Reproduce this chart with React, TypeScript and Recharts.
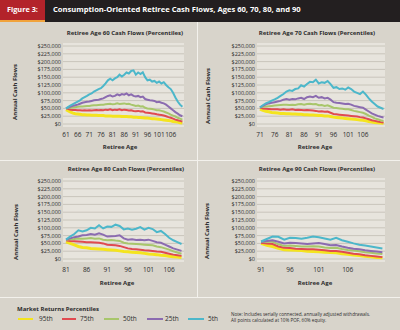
import { CartesianGrid, Line, LineChart, XAxis, YAxis } from "recharts";

// percentiles, drawn bottom to top
const percentiles = ["95th", "75th", "50th", "25th", "5th"];
const keys = ["p95", "p75", "p50", "p25", "p5"];
const colors = ["#f4e41e", "#e04a50", "#a8c66b", "#8b6bb0", "#4cb7ca"];
const widths = [3, 2, 2, 2, 2];

const yTicks = [0, 25000, 50000, 75000, 100000, 125000, 150000, 175000, 200000, 225000, 250000];

// retiree age 60 (values in $000s)
const ages60 = Array.from({ length: 51 }, (_, i) => 61 + i);
const age60_p95 = [46, 42, 38, 35, 33, 32, 31, 30, 30, 29, 29, 28, 28, 28, 27, 27, 27, 26, 26, 26, 25, 25, 25, 25, 24, 24, 24, 23, 23, 22, 22, 21, 21, 20, 19, 19, 18, 17, 17, 16, 15, 14, 13, 12, 11, 10, 8, 7, 6, 4, 3];
const age60_p75 = [50, 48, 46, 45, 45, 44, 44, 43, 44, 43, 44, 43, 44, 45, 44, 45, 44, 46, 45, 47, 44, 46, 45, 47, 44, 46, 45, 43, 44, 42, 41, 42, 40, 41, 37, 36, 35, 34, 33, 31, 30, 29, 27, 25, 22, 20, 17, 14, 12, 10, 8];
const age60_p50 = [50, 51, 52, 53, 54, 55, 56, 56, 57, 58, 58, 59, 60, 60, 61, 62, 62, 63, 64, 65, 63, 64, 66, 64, 65, 66, 64, 65, 62, 60, 58, 59, 56, 57, 52, 50, 49, 48, 46, 44, 44, 42, 40, 37, 34, 30, 27, 24, 20, 17, 14];
const age60_p25 = [50, 53, 56, 58, 60, 62, 65, 68, 70, 71, 72, 74, 76, 77, 78, 80, 82, 86, 90, 92, 88, 90, 95, 92, 96, 94, 98, 92, 95, 90, 88, 90, 86, 88, 80, 78, 76, 75, 74, 70, 71, 68, 66, 62, 56, 50, 44, 38, 33, 28, 25];
const age60_p5 = [50, 55, 60, 64, 68, 72, 76, 82, 86, 90, 95, 98, 104, 108, 112, 115, 122, 130, 140, 145, 140, 146, 150, 158, 152, 158, 165, 162, 170, 172, 158, 165, 160, 166, 150, 140, 142, 136, 138, 132, 136, 130, 134, 125, 118, 112, 100, 85, 72, 62, 55];

// retiree age 70
const ages70 = Array.from({ length: 43 }, (_, i) => 71 + i);
const age70_p95 = [48, 44, 41, 39, 37, 36, 35, 34, 34, 33, 33, 32, 32, 31, 31, 30, 30, 29, 29, 28, 27, 27, 26, 26, 24, 22, 21, 20, 19, 18, 17, 16, 15, 14, 13, 12, 10, 8, 6, 5, 4, 3, 2];
const age70_p75 = [53, 50, 49, 48, 47, 47, 47, 46, 47, 46, 46, 47, 45, 46, 45, 44, 45, 44, 43, 42, 40, 41, 39, 40, 36, 32, 31, 30, 29, 28, 27, 26, 25, 24, 22, 21, 18, 15, 12, 10, 8, 6, 5];
const age70_p50 = [53, 55, 56, 57, 58, 59, 60, 61, 62, 62, 61, 62, 61, 63, 64, 62, 64, 65, 63, 64, 60, 61, 58, 60, 56, 52, 51, 50, 49, 47, 47, 45, 42, 40, 38, 36, 32, 27, 23, 18, 15, 12, 10];
const age70_p25 = [53, 58, 63, 66, 68, 70, 72, 74, 78, 80, 78, 80, 79, 82, 84, 80, 86, 88, 86, 90, 84, 86, 82, 84, 78, 70, 68, 67, 66, 64, 65, 62, 58, 56, 54, 52, 46, 40, 34, 30, 26, 23, 21];
const age70_p5 = [53, 60, 66, 70, 75, 79, 84, 90, 96, 104, 108, 106, 112, 114, 124, 120, 128, 135, 134, 142, 130, 134, 132, 138, 128, 116, 118, 112, 114, 110, 117, 112, 104, 100, 96, 104, 94, 82, 72, 64, 56, 52, 48];

// retiree age 80
const ages80 = Array.from({ length: 29 }, (_, i) => 81 + i);
const age80_p95 = [55, 50, 45, 40, 37, 36, 34, 33, 32, 31, 30, 29, 28, 26, 24, 23, 22, 21, 20, 18, 16, 15, 14, 12, 11, 9, 7, 6, 5];
const age80_p75 = [60, 58, 57, 56, 55, 54, 54, 53, 52, 50, 46, 45, 44, 42, 38, 34, 32, 31, 30, 28, 27, 26, 24, 23, 20, 17, 14, 12, 10];
const age80_p50 = [62, 63, 64, 66, 65, 66, 67, 65, 66, 62, 60, 61, 59, 58, 52, 50, 49, 48, 47, 46, 45, 44, 40, 38, 34, 30, 25, 21, 17];
const age80_p25 = [62, 66, 70, 72, 76, 77, 80, 78, 82, 78, 72, 73, 74, 76, 66, 62, 63, 61, 62, 60, 62, 58, 54, 52, 46, 40, 34, 30, 26];
const age80_p5 = [62, 72, 80, 92, 88, 92, 100, 98, 108, 98, 104, 103, 110, 106, 95, 98, 94, 97, 102, 94, 100, 96, 86, 90, 80, 68, 60, 54, 48];

// retiree age 90
const ages90 = Array.from({ length: 22 }, (_, i) => 91 + i);
const age90_p95 = [50, 44, 40, 34, 30, 29, 28, 27, 25, 24, 23, 22, 21, 20, 17, 15, 13, 11, 9, 7, 5, 4];
const age90_p75 = [52, 50, 48, 40, 36, 35, 33, 32, 31, 31, 30, 28, 26, 26, 23, 20, 17, 15, 12, 10, 8, 6];
const age90_p50 = [55, 56, 55, 47, 42, 43, 42, 40, 40, 41, 40, 37, 35, 36, 32, 29, 27, 25, 22, 20, 18, 16];
const age90_p25 = [55, 58, 60, 55, 50, 52, 51, 50, 48, 50, 51, 48, 44, 45, 40, 36, 33, 31, 28, 26, 24, 22];
const age90_p5 = [56, 64, 72, 71, 62, 68, 67, 65, 68, 72, 70, 66, 62, 68, 60, 55, 50, 46, 43, 40, 37, 34];

function buildRows(ages: number[], series: number[][]) {
  return ages.map((age, i) => {
    const row: Record<string, number> = { age };
    keys.forEach((k, j) => {
      row[k] = series[j][i] * 1000;
    });
    return row;
  });
}

const fontFamily = "'Open Sans', 'Noto Sans', sans-serif";
const textColor = "#2b2b2b";

const fmt = (v: number) => (v === 0 ? "$0" : "$" + v.toLocaleString("en-US"));

type PanelProps = {
  title: string;
  ages: number[];
  series: number[][];
  ticks: number[];
  domain: [number, number];
  plotLeft: number;
  plotRight: number;
  plotTop: number;
  plotBottom: number;
  titlePos: [number, number];
  yTitlePos: [number, number];
  xTitlePos: [number, number];
};

function Centered({ x, y, children, style }: { x: number; y: number; children: any; style?: any }) {
  return (
    <div
      style={{
        position: "absolute",
        left: x,
        top: y,
        transform: "translate(-50%, -50%)",
        whiteSpace: "nowrap",
        fontFamily,
        color: textColor,
        lineHeight: 1,
        ...style,
      }}>
      {children}
    </div>
  );
}

function Panel(p: PanelProps) {
  const rows = buildRows(p.ages, p.series);
  const w = p.plotRight - p.plotLeft;
  const h = p.plotBottom - p.plotTop;
  return (
    <>
      <div
        style={{
          position: "absolute",
          left: p.plotLeft,
          top: p.plotTop - 3,
          width: w,
          height: h + 6,
          background: "#e7e4dd",
        }}
      />
      <div style={{ position: "absolute", left: p.plotLeft - 62, top: p.plotTop - 5 }}>
        <LineChart
          width={w + 66}
          height={h + 21}
          data={rows}
          margin={{ top: 5, right: 4, bottom: 0, left: 2 }}>
          <CartesianGrid vertical={false} stroke="#c2bdb3" strokeWidth={0.8} />
          <XAxis
            dataKey="age"
            type="number"
            domain={p.domain}
            ticks={p.ticks}
            interval={0}
            allowDataOverflow
            axisLine={false}
            tickLine={false}
            tickSize={0}
            tickMargin={8}
            height={16}
            tick={{ fontSize: 6.5, fill: textColor, fontFamily }}
          />
          <YAxis
            type="number"
            domain={[0, 250000]}
            ticks={yTicks}
            interval={0}
            width={60}
            axisLine={false}
            tickLine={false}
            tickSize={0}
            tickMargin={2}
            tickFormatter={fmt}
            tick={{ fontSize: 5.5, fill: textColor, fontFamily }}
          />
          {keys.map((k, i) => (
            <Line
              key={k}
              dataKey={k}
              name={percentiles[i]}
              type="linear"
              stroke={colors[i]}
              strokeWidth={widths[i]}
              dot={false}
              isAnimationActive={false}
            />
          ))}
        </LineChart>
      </div>
      <Centered x={p.titlePos[0]} y={p.titlePos[1]} style={{ fontSize: 6, fontWeight: 700 }}>
        {p.title}
      </Centered>
      <Centered
        x={p.yTitlePos[0]}
        y={p.yTitlePos[1]}
        style={{ fontSize: 6, fontWeight: 700, transform: "translate(-50%, -50%) rotate(-90deg)" }}>
        Annual Cash Flows
      </Centered>
      <Centered x={p.xTitlePos[0]} y={p.xTitlePos[1]} style={{ fontSize: 6, fontWeight: 700 }}>
        Retiree Age
      </Centered>
    </>
  );
}

const legendLines: [number, number, number][] = [
  [18, 33, 39],
  [62, 76, 80],
  [104, 119, 123],
  [147, 163, 165],
  [188, 204, 208],
];

export default function App() {
  return (
    <div
      style={{
        position: "absolute",
        left: 0,
        top: 0,
        width: 400,
        height: 330,
        background: "#d8d4cb",
        overflow: "hidden",
        fontFamily,
      }}>
      {/* header */}
      <div style={{ position: "absolute", left: 0, top: 0, width: 400, height: 22, background: "#231f20" }} />
      <div style={{ position: "absolute", left: 0, top: 0, width: 45, height: 20, background: "#b3232a" }} />
      <div style={{ position: "absolute", left: 0, top: 20, width: 45, height: 2, background: "#f1a33c" }} />
      <div
        style={{
          position: "absolute",
          left: 7,
          top: 5,
          color: "#fff",
          fontSize: 7.3,
          fontWeight: 700,
          whiteSpace: "nowrap",
          lineHeight: "9px",
        }}>
        Figure 3:
      </div>
      <div
        style={{
          position: "absolute",
          left: 53,
          top: 5,
          color: "#fff",
          fontSize: 7.6,
          fontWeight: 700,
          whiteSpace: "nowrap",
          lineHeight: "9px",
        }}>
        Consumption-Oriented Retiree Cash Flows, Ages 60, 70, 80, and 90
      </div>

      {/* separators */}
      <div style={{ position: "absolute", left: 197, top: 22, width: 1, height: 275, background: "#f3f1ec" }} />
      <div style={{ position: "absolute", left: 0, top: 160, width: 400, height: 1, background: "#f3f1ec" }} />
      <div style={{ position: "absolute", left: 0, top: 297, width: 400, height: 1, background: "#f3f1ec" }} />

      <Panel
        title="Retiree Age 60 Cash Flows (Percentiles)"
        ages={ages60}
        series={[age60_p95, age60_p75, age60_p50, age60_p25, age60_p5]}
        ticks={[61, 66, 71, 76, 81, 86, 91, 96, 101, 106]}
        domain={[59.7, 111.7]}
        plotLeft={63}
        plotRight={184}
        plotTop={46}
        plotBottom={124}
        titlePos={[125, 33]}
        yTitlePos={[15, 92]}
        xTitlePos={[120, 147]}
      />
      <Panel
        title="Retiree Age 70 Cash Flows (Percentiles)"
        ages={ages70}
        series={[age70_p95, age70_p75, age70_p50, age70_p25, age70_p5]}
        ticks={[71, 76, 81, 86, 91, 96, 101, 106]}
        domain={[70, 113.5]}
        plotLeft={257}
        plotRight={385}
        plotTop={46}
        plotBottom={124}
        titlePos={[317, 33]}
        yTitlePos={[208, 96]}
        xTitlePos={[315, 147]}
      />
      <Panel
        title="Retiree Age 80 Cash Flows (Percentiles)"
        ages={ages80}
        series={[age80_p95, age80_p75, age80_p50, age80_p25, age80_p5]}
        ticks={[81, 86, 91, 96, 101, 106]}
        domain={[80.27, 109.6]}
        plotLeft={63}
        plotRight={184}
        plotTop={181}
        plotBottom={259}
        titlePos={[126, 169]}
        yTitlePos={[16, 232]}
        xTitlePos={[117, 283]}
      />
      <Panel
        title="Retiree Age 90 Cash Flows (Percentiles)"
        ages={ages90}
        series={[age90_p95, age90_p75, age90_p50, age90_p25, age90_p5]}
        ticks={[91, 96, 101, 106]}
        domain={[90.3, 112.45]}
        plotLeft={257}
        plotRight={385}
        plotTop={181}
        plotBottom={259}
        titlePos={[317, 169]}
        yTitlePos={[207, 231]}
        xTitlePos={[315, 283]}
      />

      {/* legend */}
      <div
        style={{
          position: "absolute",
          left: 17,
          top: 305,
          fontSize: 6,
          fontWeight: 700,
          color: textColor,
          whiteSpace: "nowrap",
          lineHeight: "8px",
        }}>
        Market Returns Percentiles
      </div>
      {legendLines.map(([x1, x2, tx], i) => (
        <div key={i}>
          <div
            style={{
              position: "absolute",
              left: x1,
              top: 318,
              width: x2 - x1,
              height: 2,
              background: colors[i],
            }}
          />
          <div
            style={{
              position: "absolute",
              left: tx,
              top: 315,
              fontSize: 6.5,
              color: textColor,
              whiteSpace: "nowrap",
              lineHeight: "8px",
            }}>
            {percentiles[i]}
          </div>
        </div>
      ))}
      <div
        style={{
          position: "absolute",
          left: 231,
          top: 311,
          fontSize: 4.6,
          color: textColor,
          whiteSpace: "nowrap",
          lineHeight: "6px",
        }}>
        Note: Includes serially connected, annually adjusted withdrawals.
        <br />
        All points calculated at 10% POF, 60% equity.
      </div>
    </div>
  );
}
